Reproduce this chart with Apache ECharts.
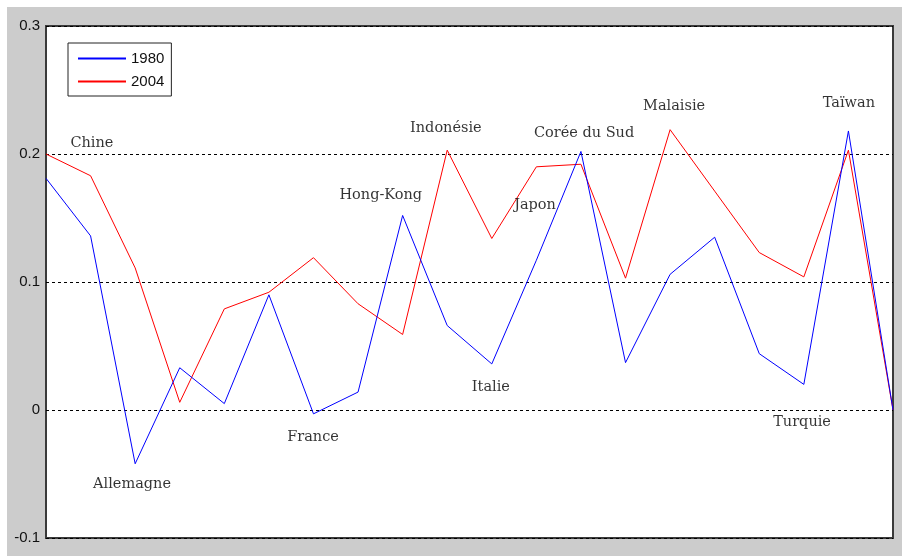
<!DOCTYPE html>
<html>
<head>
<meta charset="utf-8">
<script src="https://cdn.jsdelivr.net/npm/echarts@6/dist/echarts.min.js"></script>
<style>
html,body{margin:0;padding:0;background:#fff;}
#chart{position:absolute;left:7px;top:7px;width:895px;height:549px;background:#cccccc;}
</style>
</head>
<body>
<div id="chart"></div>
<script>
// Data (x = country index 0..19)
const series1980 = [0.181, 0.136, -0.042, 0.033, 0.005, 0.090, -0.003, 0.014, 0.152, 0.066,
                    0.036, 0.117, 0.202, 0.037, 0.106, 0.135, 0.044, 0.020, 0.218, 0.000];
const series2004 = [0.200, 0.183, 0.111, 0.006, 0.079, 0.092, 0.119, 0.083, 0.059, 0.203,
                    0.134, 0.190, 0.192, 0.103, 0.219, 0.171, 0.123, 0.104, 0.203, 0.000];
const seriesNames = ['1980', '2004'];
const yTickLabels = ['-0.1', '0', '0.1', '0.2', '0.3'];
// Annotation labels (centre position in data units)
const labelNames = ['Chine', 'Allemagne', 'France', 'Hong-Kong', 'Indonésie', 'Italie', 'Japon', 'Corée du Sud', 'Malaisie', 'Turquie', 'Taïwan'];
const labelX = [1.03, 1.93, 5.99, 7.51, 8.97, 9.98, 10.97, 12.07, 14.09, 16.96, 18.01];
const labelY = [0.2085, -0.058, -0.021, 0.168, 0.220, 0.0175, 0.160, 0.216, 0.2374, -0.0099, 0.2397];

const chart = echarts.init(document.getElementById('chart'));
const toXY = arr => arr.map((v, i) => [i, v]);
chart.setOption({
  animation: false,
  grid: {
    left: 39, top: 19, right: 9, bottom: 18,
    show: true, backgroundColor: '#ffffff', borderColor: '#3a3a3a', borderWidth: 2
  },
  legend: {
    data: seriesNames,
    left: 61, top: 36,
    orient: 'vertical',
    backgroundColor: '#ffffff',
    borderColor: '#222', borderWidth: 1, borderRadius: 0,
    padding: [8, 7, 7, 9],
    itemWidth: 48, itemHeight: 14, itemGap: 8,
    itemStyle: { opacity: 0 },
    textStyle: { fontFamily: 'Liberation Sans', fontSize: 15, color: '#111' }
  },
  xAxis: {
    type: 'value', min: 0, max: 19,
    axisLine: { show: false }, axisTick: { show: false }, axisLabel: { show: false },
    splitLine: { show: false }
  },
  yAxis: {
    type: 'value', min: -0.1, max: 0.3, interval: 0.1,
    axisLine: { show: false }, axisTick: { show: false },
    axisLabel: {
      margin: 6, fontFamily: 'Liberation Sans', fontSize: 15, color: '#111',
      formatter: (v) => yTickLabels[Math.round((v + 0.1) / 0.1)]
    },
    splitLine: { show: true, lineStyle: { color: '#000', type: [3, 3], width: 1 } }
  },
  series: [
    {
      name: seriesNames[0], type: 'line', data: toXY(series1980),
      symbol: 'none', lineStyle: { color: '#0000ff', width: 1 }, itemStyle: { color: '#0000ff' }, z: 3
    },
    {
      name: seriesNames[1], type: 'line', data: toXY(series2004),
      symbol: 'none', lineStyle: { color: '#ff0000', width: 1 }, itemStyle: { color: '#ff0000' }, z: 2
    },
    {
      name: 'labels', type: 'scatter', silent: true, z: 5,
      symbolSize: 1, itemStyle: { color: 'rgba(0,0,0,0)' },
      data: labelNames.map((n, i) => ({ name: n, value: [labelX[i], labelY[i]] })),
      label: {
        show: true, position: 'inside', formatter: p => p.name,
        fontFamily: 'DejaVu Serif', fontSize: 14.5, color: '#000'
      }
    }
  ]
});
</script>
</body>
</html>
